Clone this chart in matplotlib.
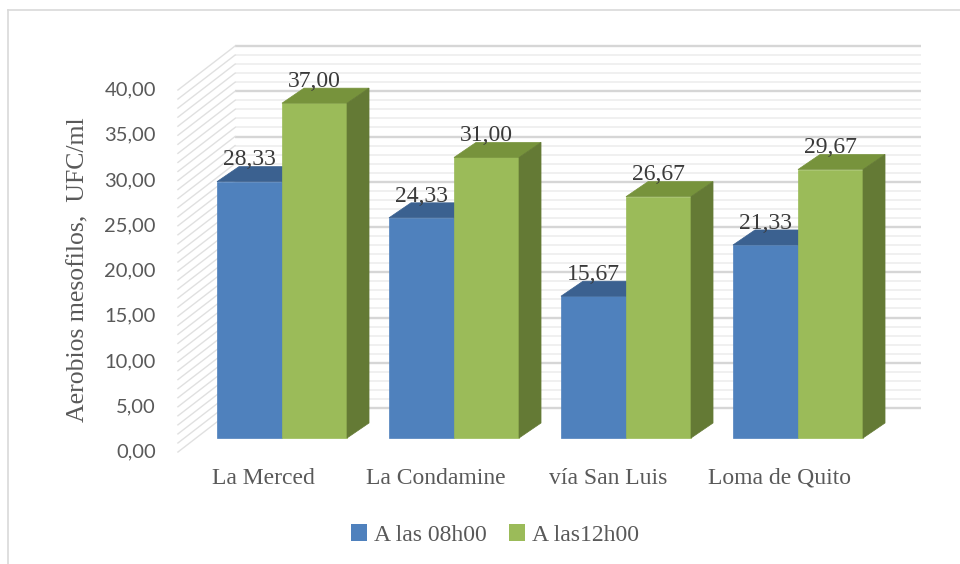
import matplotlib
matplotlib.use("Agg")
import matplotlib.pyplot as plt
from matplotlib.patches import Polygon, Rectangle, Patch
from matplotlib.lines import Line2D

categories = ["La Merced", "La Condamine", "vía San Luis", "Loma de Quito"]
series_names = ["A las 08h00", "A las12h00"]
values_08h = [28.33, 24.33, 15.67, 21.33]
values_12h = [37.00, 31.00, 26.67, 29.67]
yticks = [0, 5, 10, 15, 20, 25, 30, 35, 40]

front_colors = ["#4f81bd", "#9bbb59"]
top_colors = ["#3b6190", "#77933c"]
side_colors = ["#34577f", "#647a35"]

SERIF = ["Liberation Serif", "DejaVu Serif"]
SANS = ["Lato", "DejaVu Sans"]
TXT = "#595959"

fig = plt.figure(figsize=(9.6, 5.64), dpi=100)
ax = fig.add_axes([0, 0, 1, 1])
ax.set_xlim(-1.6395, 3.9419)
ax.set_ylim(-13.92, 48.40)
ax.axis("off")

# geometry (category units / value units)
W = 0.378          # bar width
DX, DY = 0.128, 1.66   # bar depth
FX, FY = -0.105, -1.547  # front plane offset
BX, BY = 0.227, 3.315    # back wall offset
WALL_L, WALL_R = -0.273, 3.715
FRONT_L = WALL_L - (BX - FX)

# walls / gridlines
for v in range(0, 41):
    major = v % 5 == 0
    col = "#d6d6d6" if major else "#ececec"
    lw = 1.7 if major else 1.1
    ax.plot([WALL_L, WALL_R], [v + BY, v + BY], color=col, lw=lw, zorder=1,
            solid_capstyle="butt")
    ax.plot([FRONT_L, WALL_L], [v + FY, v + BY], color="#e0e0e0", lw=1.0, zorder=1)

# bars
for i in range(len(categories)):
    for s, vals in enumerate([values_08h, values_12h]):
        v = vals[i]
        x0 = i - W + s * W
        x1 = x0 + W
        z = 3 + s
        ax.add_patch(Rectangle((x0, 0), W, v, facecolor=front_colors[s],
                               edgecolor=front_colors[s], lw=0.5, zorder=z))
        ax.add_patch(Polygon([(x0, v), (x0 + DX, v + DY), (x1 + DX, v + DY), (x1, v)],
                             closed=True, facecolor=top_colors[s],
                             edgecolor=top_colors[s], lw=0.5, zorder=z))
        ax.add_patch(Polygon([(x1, 0), (x1 + DX, DY), (x1 + DX, v + DY), (x1, v)],
                             closed=True, facecolor=side_colors[s],
                             edgecolor=side_colors[s], lw=0.5, zorder=z - 0.5 if s == 0 else z))
        ax.text((x0 + x1) / 2, v + 2.4, f"{v:.2f}".replace(".", ","),
                ha="center", va="center", fontsize=17, family=SERIF,
                color="#3a3a3a", zorder=10)

# y tick labels on front plane
for t in yticks:
    ax.text(-0.733, t + FY, f"{t:.2f}".replace(".", ","), ha="right", va="center",
            fontsize=14.5, family=SANS, color=TXT)

# category labels
for i, c in enumerate(categories):
    ax.text(i + FX, -4.42, c, ha="center", va="center", fontsize=17,
            family=SERIF, color=TXT)

# axis title
fig.text(78 / 960, 1 - 270 / 564, "Aerobios mesofilos,  UFC/ml", rotation=90,
         ha="center", va="center", fontsize=18.5, family=SERIF, color=TXT)

# legend
handles = [Patch(facecolor=front_colors[k], edgecolor="none") for k in range(2)]
leg = fig.legend(handles, series_names, loc="center",
                 bbox_to_anchor=(495 / 960, 1 - 535 / 564), ncol=2, frameon=False,
                 handlelength=0.7, handleheight=0.7, handletextpad=0.3,
                 columnspacing=0.9, prop={"family": SERIF, "size": 17})
for t in leg.get_texts():
    t.set_color(TXT)

# chart frame
fig.add_artist(Line2D([8 / 960, 8 / 960], [0, 1 - 10 / 564], color="#d9d9d9",
                      lw=1.2, transform=fig.transFigure))
fig.add_artist(Line2D([8 / 960, 1], [1 - 10 / 564, 1 - 10 / 564], color="#d9d9d9",
                      lw=1.2, transform=fig.transFigure))

fig.savefig("out.png", dpi=100, facecolor="white")
